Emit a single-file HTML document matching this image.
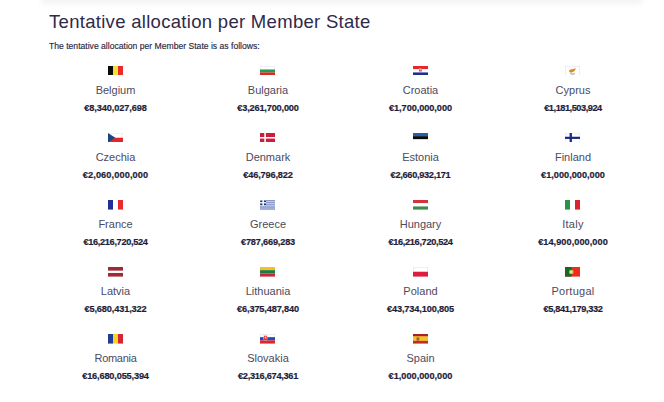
<!DOCTYPE html>
<html>
<head>
<meta charset="utf-8">
<style>
html,body{margin:0;padding:0;background:#fff;}
body{width:664px;height:402px;overflow:hidden;position:relative;font-family:"Liberation Sans",sans-serif;}
.topshade{position:absolute;left:42px;top:-3px;width:600px;height:7px;background:#f4f4f5;filter:blur(2px);}
h1{position:absolute;left:49px;top:10.5px;margin:0;font-weight:400;font-size:18.5px;line-height:22px;letter-spacing:0.3px;color:#2f2a4a;white-space:nowrap;}
.sub{position:absolute;left:49px;top:41px;margin:0;font-size:8.6px;line-height:10px;color:#2a283f;white-space:nowrap;-webkit-text-stroke:0.15px #2a283f;}
.grid{position:absolute;left:39.25px;top:65.5px;display:grid;grid-template-columns:repeat(4,152.5px);grid-auto-rows:67.2px;}
.c{position:relative;text-align:center;}
.c svg{position:absolute;left:68.5px;top:0.1px;width:15px;height:9.6px;display:block;}
.n{position:absolute;left:0;right:0;top:18px;font-size:11px;line-height:13px;color:#4c4a60;white-space:nowrap;}
.a{position:absolute;left:0;right:0;top:37px;font-size:9.2px;line-height:10px;font-weight:700;color:#1e1c38;white-space:nowrap;-webkit-text-stroke:0.2px #1e1c38;}
</style>
</head>
<body>
<div class="topshade"></div>
<h1>Tentative allocation per Member State</h1>
<div class="sub">The tentative allocation per Member State is as follows:</div>
<div class="grid">
<!-- Row 1 -->
<div class="c">
<svg viewBox="0 0 15 10" preserveAspectRatio="none"><rect width="5" height="10" fill="#0b0b0b"/><rect x="5" width="5" height="10" fill="#f3df3a"/><rect x="10" width="5" height="10" fill="#ec2a2a"/></svg>
<div class="n">Belgium</div><div class="a" style="letter-spacing:-0.09px">€8,340,027,698</div></div>
<div class="c">
<svg viewBox="0 0 15 10" preserveAspectRatio="none"><rect width="15" height="3.4" fill="#fff"/><rect y="3.3" width="15" height="3.4" fill="#1f9a5a"/><rect y="6.7" width="15" height="3.3" fill="#d62b1f"/><rect x="0.25" y="0.25" width="14.5" height="3.1" fill="none" stroke="#e2e2e2" stroke-width="0.5"/></svg>
<div class="n">Bulgaria</div><div class="a" style="letter-spacing:-0.17px">€3,261,700,000</div></div>
<div class="c">
<svg viewBox="0 0 15 10" preserveAspectRatio="none"><rect width="15" height="3.4" fill="#e8262c"/><rect y="3.3" width="15" height="3.4" fill="#fff"/><rect y="6.7" width="15" height="3.3" fill="#1f2e8c"/><rect x="6" y="2.2" width="3" height="3.6" fill="#e45a5a"/><rect x="6.5" y="2.6" width="1" height="1" fill="#fff"/><rect x="7.5" y="3.6" width="1" height="1" fill="#fff"/></svg>
<div class="n">Croatia</div><div class="a" style="letter-spacing:-0.06px">€1,700,000,000</div></div>
<div class="c">
<svg viewBox="0 0 15 10" preserveAspectRatio="none"><rect width="15" height="10" fill="#fff"/><rect x="0.25" y="0.25" width="14.5" height="9.5" fill="none" stroke="#dcdcdc" stroke-width="0.5"/><path d="M4 5.4 C4 4 6 3.4 8 3.1 L10.8 2.4 C10.5 4 9.5 5.8 7.5 6.5 C6 7 4.3 6.8 4 5.4Z" fill="#d98a2c"/><path d="M5.3 8 Q7.5 9 9.8 8" stroke="#6c7460" stroke-width="0.8" fill="none"/></svg>
<div class="n">Cyprus</div><div class="a" style="letter-spacing:-0.45px">€1,181,503,924</div></div>
<!-- Row 2 -->
<div class="c">
<svg viewBox="0 0 15 10" preserveAspectRatio="none"><rect width="15" height="5" fill="#fff"/><rect x="0.25" y="0.25" width="14.5" height="4.75" fill="none" stroke="#e4e4e4" stroke-width="0.5"/><rect y="5" width="15" height="5" fill="#e0282c"/><path d="M0 0 L7.3 5 L0 10Z" fill="#1e4384"/></svg>
<div class="n">Czechia</div><div class="a" style="letter-spacing:0.11px">€2,060,000,000</div></div>
<div class="c">
<svg viewBox="0 0 15 10" preserveAspectRatio="none"><rect width="15" height="10" fill="#c8203c"/><rect x="4.3" width="1.6" height="10" fill="#fff"/><rect y="4.2" width="15" height="1.6" fill="#fff"/></svg>
<div class="n">Denmark</div><div class="a" style="letter-spacing:-0.15px">€46,796,822</div></div>
<div class="c">
<svg viewBox="0 0 15 10" preserveAspectRatio="none"><rect width="15" height="3.4" fill="#1f5fb4"/><rect y="3.3" width="15" height="3.4" fill="#0a0a0a"/><rect y="6.7" width="15" height="3.3" fill="#fff"/><rect x="0.25" y="6.7" width="14.5" height="3.05" fill="none" stroke="#e2e2e2" stroke-width="0.5"/></svg>
<div class="n">Estonia</div><div class="a" style="letter-spacing:-0.29px">€2,660,932,171</div></div>
<div class="c">
<svg viewBox="0 0 15 10" preserveAspectRatio="none"><rect width="15" height="10" fill="#fff"/><rect x="0.25" y="0.25" width="14.5" height="9.5" fill="none" stroke="#e0e0e0" stroke-width="0.5"/><rect x="4.6" width="2.3" height="10" fill="#1b2a86"/><rect y="3.9" width="15" height="2.3" fill="#1b2a86"/></svg>
<div class="n">Finland</div><div class="a">€1,000,000,000</div></div>
<!-- Row 3 -->
<div class="c">
<svg viewBox="0 0 15 10" preserveAspectRatio="none"><rect width="5" height="10" fill="#1f2f9c"/><rect x="5" width="5" height="10" fill="#fff"/><rect x="10" width="5" height="10" fill="#ea2a2e"/></svg>
<div class="n">France</div><div class="a" style="letter-spacing:-0.33px">€16,216,720,524</div></div>
<div class="c">
<svg viewBox="0 0 15 10" preserveAspectRatio="none"><rect width="15" height="10" fill="#bcc8e8"/><g fill="#8190c4"><rect x="6" y="0" width="9" height="0.9"/><rect x="6" y="2.2" width="9" height="0.8"/><rect x="6" y="4.5" width="9" height="0.8"/><rect y="6.8" width="15" height="1.1"/><rect y="8.9" width="15" height="1.1"/></g><rect width="6" height="6" fill="#eef1fa"/><g fill="#1d3468"><rect x="0.2" y="0.5" width="2.1" height="1.6"/><rect x="4" y="0.5" width="2" height="1.6"/><rect x="0.2" y="3.6" width="2.1" height="1.8"/><rect x="4" y="3.6" width="2" height="1.8"/></g></svg>
<div class="n">Greece</div><div class="a" style="letter-spacing:-0.18px">€787,669,283</div></div>
<div class="c">
<svg viewBox="0 0 15 10" preserveAspectRatio="none"><rect width="15" height="3.4" fill="#d6323a"/><rect y="3.3" width="15" height="3.4" fill="#fff"/><rect y="6.7" width="15" height="3.3" fill="#3d8a4e"/></svg>
<div class="n">Hungary</div><div class="a" style="letter-spacing:-0.33px">€16,216,720,524</div></div>
<div class="c">
<svg viewBox="0 0 15 10" preserveAspectRatio="none"><rect width="5" height="10" fill="#2a9446"/><rect x="5" width="5" height="10" fill="#fff"/><rect x="10" width="5" height="10" fill="#d8252e"/></svg>
<div class="n" style="letter-spacing:0.3px">Italy</div><div class="a" style="letter-spacing:0.05px">€14,900,000,000</div></div>
<!-- Row 4 -->
<div class="c">
<svg viewBox="0 0 15 10" preserveAspectRatio="none"><rect width="15" height="10" fill="#9e2a36"/><rect y="3.8" width="15" height="2.4" fill="#fff"/></svg>
<div class="n">Latvia</div><div class="a" style="letter-spacing:-0.12px">€5,680,431,322</div></div>
<div class="c">
<svg viewBox="0 0 15 10" preserveAspectRatio="none"><rect width="15" height="3.4" fill="#f7bf26"/><rect y="3.3" width="15" height="3.4" fill="#1e7a46"/><rect y="6.7" width="15" height="3.3" fill="#c7283a"/></svg>
<div class="n">Lithuania</div><div class="a" style="letter-spacing:-0.15px">€6,375,487,840</div></div>
<div class="c">
<svg viewBox="0 0 15 10" preserveAspectRatio="none"><rect width="15" height="5" fill="#fff"/><rect x="0.25" y="0.25" width="14.5" height="4.75" fill="none" stroke="#e0e0e0" stroke-width="0.5"/><rect y="5" width="15" height="5" fill="#dc1d3e"/></svg>
<div class="n">Poland</div><div class="a" style="letter-spacing:-0.12px">€43,734,100,805</div></div>
<div class="c">
<svg viewBox="0 0 15 10" preserveAspectRatio="none"><rect width="15" height="10" fill="#ec2c1e"/><rect width="6.6" height="10" fill="#17662a"/><circle cx="6.3" cy="5.2" r="2.4" fill="#a9c84e"/><circle cx="6.3" cy="5.2" r="1.3" fill="#f0dc8c"/></svg>
<div class="n" style="letter-spacing:0.25px">Portugal</div><div class="a" style="letter-spacing:-0.34px">€5,841,179,332</div></div>
<!-- Row 5 -->
<div class="c">
<svg viewBox="0 0 15 10" preserveAspectRatio="none"><rect width="5" height="10" fill="#1f3c96"/><rect x="5" width="5" height="10" fill="#f6d326"/><rect x="10" width="5" height="10" fill="#d42636"/></svg>
<div class="n" style="letter-spacing:-0.3px">Romania</div><div class="a" style="letter-spacing:-0.16px">€16,680,055,394</div></div>
<div class="c">
<svg viewBox="0 0 15 10" preserveAspectRatio="none"><rect width="15" height="3.4" fill="#fff"/><rect x="0.25" y="0.25" width="14.5" height="3.1" fill="none" stroke="#e0e0e0" stroke-width="0.5"/><rect y="3.3" width="15" height="3.4" fill="#1f4fb5"/><rect y="6.7" width="15" height="3.3" fill="#e2242e"/><path d="M3.7 1.5 H7.1 V5.8 Q5.4 7.8 3.7 5.8Z" fill="#e0303a" stroke="#fff" stroke-width="0.45"/><rect x="5.15" y="2.3" width="0.5" height="3.2" fill="#fff"/><rect x="4.5" y="3.1" width="1.8" height="0.45" fill="#fff"/><path d="M4.3 5.3 Q5.4 4.6 6.5 5.3 L6.2 5.9 H4.6Z" fill="#2a45a8"/></svg>
<div class="n">Slovakia</div><div class="a" style="letter-spacing:-0.27px">€2,316,674,361</div></div>
<div class="c">
<svg viewBox="0 0 15 10" preserveAspectRatio="none"><rect width="15" height="10" fill="#c42a2a"/><rect width="15" height="2" fill="#a52326"/><rect y="2.3" width="15" height="4.9" fill="#f3c12e"/><rect x="3.5" y="3.3" width="2.8" height="3.7" rx="0.6" fill="#9a7030"/><rect x="4.2" y="4" width="1.4" height="2" fill="#c0503a"/></svg>
<div class="n">Spain</div><div class="a">€1,000,000,000</div></div>
</div>
</body>
</html>
